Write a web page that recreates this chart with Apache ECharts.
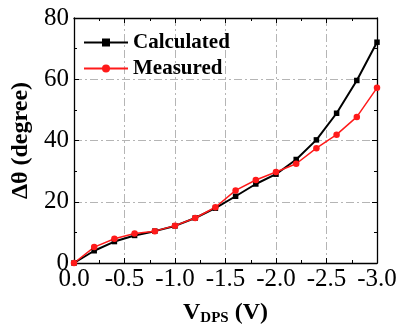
<!DOCTYPE html>
<html>
<head>
<meta charset="utf-8">
<script src="https://cdn.jsdelivr.net/npm/echarts@6/dist/echarts.min.js"></script>
<style>
  html, body { margin: 0; padding: 0; background: #fff; }
  #chart { width: 400px; height: 331px; }
</style>
</head>
<body>
<div id="chart"></div>
<script>
// bias voltage (V) and phase change (degree)
var voltages = [0, -0.2, -0.4, -0.6, -0.8, -1.0, -1.2, -1.4, -1.6, -1.8, -2.0, -2.2, -2.4, -2.6, -2.8, -3.0];
var calculated = [0, 4.0, 7.0, 9.0, 10.4, 12.1, 14.7, 17.9, 21.8, 25.8, 29.0, 33.8, 40.2, 48.9, 59.6, 72.1];
var measured = [0, 5.2, 7.9, 9.6, 10.4, 12.2, 14.7, 18.2, 23.7, 27.1, 29.7, 32.4, 37.5, 41.9, 47.7, 57.2];

var serif = '"Liberation Serif", "Times New Roman", serif';

function pairs(ys) {
  return voltages.map(function (v, i) { return [v, ys[i]]; });
}

var gridLine = { show: true, lineStyle: { color: '#b5b5b5', width: 1, type: [8, 3, 2, 3] } };
var frame = { show: true, onZero: false, lineStyle: { color: '#000', width: 1.3 } };
var tick = { show: true, inside: true, length: 5, lineStyle: { color: '#000' } };
var minor = { show: true, splitNumber: 2, length: 3, lineStyle: { color: '#000' } };

var chart = echarts.init(document.getElementById('chart'));
chart.setOption({
  backgroundColor: '#fff',
  animation: false,
  grid: { left: 74, right: 23, top: 18, bottom: 66 },
  legend: {
    orient: 'vertical',
    left: 83,
    top: 32,
    padding: 0,
    itemWidth: 44,
    itemHeight: 10,
    itemGap: 5,
    textStyle: { fontFamily: serif, fontWeight: 'bold', fontSize: 21, color: '#000' },
    data: ['Calculated', 'Measured']
  },
  xAxis: [
    {
      type: 'value', min: -3, max: 0, interval: 0.5, inverse: true,
      axisLine: frame, axisTick: tick, minorTick: minor,
      splitLine: gridLine,
      axisLabel: {
        margin: 4, fontFamily: serif, fontSize: 25, color: '#000',
        formatter: function (v) { return v.toFixed(1); }
      },
      name: '{a|V}{b|DPS}{a| (V)}',
      nameLocation: 'middle',
      nameGap: 37,
      nameTextStyle: {
        rich: {
          a: { fontFamily: serif, fontWeight: 'bold', fontSize: 24, color: '#000' },
          b: { fontFamily: serif, fontWeight: 'bold', fontSize: 15, color: '#000', padding: [11, 0, 0, 0] }
        }
      }
    },
    {
      type: 'value', min: -3, max: 0, interval: 0.5, inverse: true, position: 'top',
      axisLine: frame, axisTick: tick, minorTick: minor,
      axisLabel: { show: false }, splitLine: { show: false }
    }
  ],
  yAxis: [
    {
      type: 'value', min: 0, max: 80, interval: 20,
      axisLine: frame, axisTick: tick, minorTick: minor,
      splitLine: gridLine,
      axisLabel: { margin: 5, fontFamily: serif, fontSize: 25, color: '#000' },
      name: 'Δθ (degree)',
      nameLocation: 'middle',
      nameRotate: 90,
      nameGap: 40,
      nameTextStyle: { fontFamily: serif, fontWeight: 'bold', fontSize: 24, color: '#000' }
    },
    {
      type: 'value', min: 0, max: 80, interval: 20, position: 'right',
      axisLine: frame, axisTick: tick, minorTick: minor,
      axisLabel: { show: false }, splitLine: { show: false }
    }
  ],
  series: [
    {
      name: 'Calculated', type: 'line', data: pairs(calculated),
      symbol: 'rect', symbolSize: 5.5,
      lineStyle: { color: '#000', width: 2 },
      itemStyle: { color: '#000' }
    },
    {
      name: 'Measured', type: 'line', data: pairs(measured),
      symbol: 'circle', symbolSize: 6.5,
      lineStyle: { color: '#ff1a1a', width: 1.5 },
      itemStyle: { color: '#ff1a1a' }
    }
  ]
});
</script>
</body>
</html>
